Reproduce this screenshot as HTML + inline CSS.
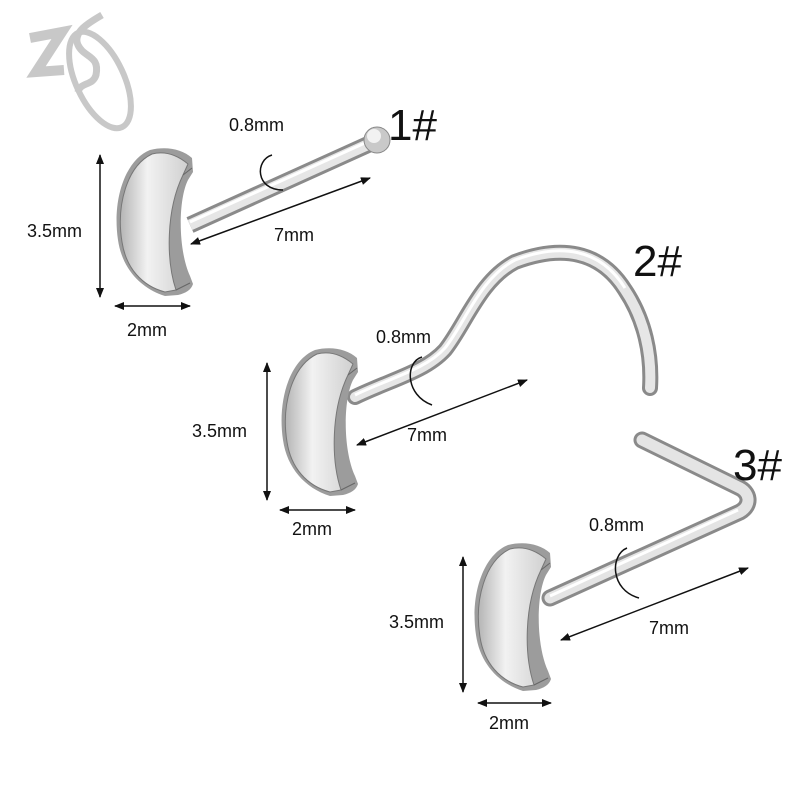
<!DOCTYPE html>
<html><head><meta charset="utf-8"><style>html,body{margin:0;padding:0;background:#fff}svg{display:block}text{font-family:"Liberation Sans",sans-serif;fill:#111}</style></head>
<body>
<svg width="800" height="800" viewBox="0 0 800 800" xmlns="http://www.w3.org/2000/svg">
<defs>
<linearGradient id="face" x1="0" y1="0" x2="1" y2="0">
<stop offset="0" stop-color="#b5b5b5"/><stop offset="0.4" stop-color="#f2f2f2"/><stop offset="1" stop-color="#d0d0d0"/>
</linearGradient>
<marker id="ah" markerWidth="10" markerHeight="8" refX="9" refY="4" orient="auto-start-reverse" markerUnits="userSpaceOnUse">
<path d="M0,0 L10,4 L0,8 Z" fill="#111"/></marker>
<g id="moon">
<path d="M150,150 C125,160 112,200 118,240 C122,268 140,288 165,296 L178,295 C186,293 191,290 193,284 L190,276 C178,250 178,200 188,180 L193,172 L192,158 C182,149 166,146 150,150 Z" fill="#9c9c9c"/>
<path d="M152,154 C127,166 116,205 122,242 C126,268 142,286 165,292 L176,290 C166,260 166,210 183,175 L188,164 C176,154 164,151 152,154 Z" fill="url(#face)" stroke="#777" stroke-width="1"/>
<path d="M183,175 L192,168 M176,290 L190,283" stroke="#666" stroke-width="1"/>
</g>
</defs>
<!-- logo -->
<g fill="none" stroke="#c8c8c8">
<ellipse cx="100" cy="80" rx="24" ry="52" transform="rotate(-25 100 80)" stroke-width="6"/>
<path d="M30,38 L62,32 L36,72 L64,70" stroke-width="10"/>
<path d="M102,15 C90,22 72,32 78,45 C84,58 100,55 96,75 C93,86 80,82 78,92" stroke-width="7"/>
</g>
<!-- piece 1 -->
<path d="M190,225 L378,140" stroke="#8a8a8a" stroke-width="17"/>
<path d="M190,225 L378,140" stroke="#e6e6e6" stroke-width="11"/>
<path d="M190,222 L376,138" stroke="#fff" stroke-width="3"/>
<circle cx="377" cy="140" r="13" fill="#c9c9c9" stroke="#888" stroke-width="1"/>
<circle cx="374" cy="136" r="7" fill="#f2f2f2"/>
<use href="#moon"/>
<!-- piece 2 -->
<path d="M355,397 C390,380 425,372 445,350 C465,325 480,280 515,262 C560,245 600,250 625,290 C645,320 652,355 650,388" fill="none" stroke="#8a8a8a" stroke-width="16" stroke-linecap="round"/>
<path d="M355,397 C390,380 425,372 445,350 C465,325 480,280 515,262 C560,245 600,250 625,290 C645,320 652,355 650,388" fill="none" stroke="#e6e6e6" stroke-width="10" stroke-linecap="round"/>
<path d="M355,395 C390,378 425,370 445,348 C465,323 480,278 515,260 C560,243 600,248 625,288" fill="none" stroke="#fff" stroke-width="3"/>
<use href="#moon" transform="translate(165,200)"/>
<!-- piece 3 -->
<path d="M550,598 L740,512 C752,505 750,492 738,487 L642,440" fill="none" stroke="#8a8a8a" stroke-width="17" stroke-linecap="round" stroke-linejoin="round"/>
<path d="M550,598 L740,512 C752,505 750,492 738,487 L642,440" fill="none" stroke="#e4e4e4" stroke-width="11" stroke-linecap="round" stroke-linejoin="round"/>
<path d="M550,596 L738,510" fill="none" stroke="#fff" stroke-width="3"/>
<use href="#moon" transform="translate(358,395)"/>
<!-- dimensions -->
<g stroke="#111" stroke-width="1.5" fill="none">
<line x1="100" y1="155" x2="100" y2="297" marker-start="url(#ah)" marker-end="url(#ah)"/>
<line x1="115" y1="306" x2="190" y2="306" marker-start="url(#ah)" marker-end="url(#ah)"/>
<line x1="191" y1="244" x2="370" y2="178" marker-start="url(#ah)" marker-end="url(#ah)"/>
<path d="M272,155 C255,160 255,190 283,190"/>
<line x1="267" y1="363" x2="267" y2="500" marker-start="url(#ah)" marker-end="url(#ah)"/>
<line x1="280" y1="510" x2="355" y2="510" marker-start="url(#ah)" marker-end="url(#ah)"/>
<line x1="357" y1="445" x2="527" y2="380" marker-start="url(#ah)" marker-end="url(#ah)"/>
<path d="M422,357 C405,362 405,395 432,405"/>
<line x1="463" y1="557" x2="463" y2="692" marker-start="url(#ah)" marker-end="url(#ah)"/>
<line x1="478" y1="703" x2="551" y2="703" marker-start="url(#ah)" marker-end="url(#ah)"/>
<line x1="561" y1="640" x2="748" y2="568" marker-start="url(#ah)" marker-end="url(#ah)"/>
<path d="M627,548 C610,555 610,590 639,598"/>
</g>
<g font-size="18">
<text x="229" y="131">0.8mm</text>
<text x="27" y="237">3.5mm</text>
<text x="127" y="336">2mm</text>
<text x="274" y="241">7mm</text>
<text x="376" y="343">0.8mm</text>
<text x="192" y="437">3.5mm</text>
<text x="292" y="535">2mm</text>
<text x="407" y="441">7mm</text>
<text x="589" y="531">0.8mm</text>
<text x="389" y="628">3.5mm</text>
<text x="489" y="729">2mm</text>
<text x="649" y="634">7mm</text>
</g>
<g font-size="44">
<text x="388" y="140">1#</text>
<text x="633" y="276">2#</text>
<text x="733" y="480">3#</text>
</g>
</svg>
</body></html>
